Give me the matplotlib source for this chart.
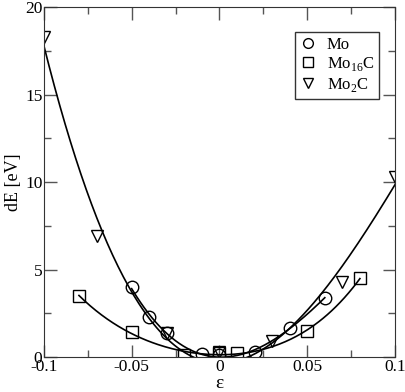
import numpy as np
import matplotlib
matplotlib.use("Agg")
import matplotlib.pyplot as plt
import matplotlib.ticker as ticker

plt.rcParams["font.family"] = ["Liberation Serif", "DejaVu Serif"]
plt.rcParams["mathtext.fontset"] = "custom"
plt.rcParams["mathtext.rm"] = "Liberation Serif"

# ─── data ────────────────────────────────────────────────────────────────
mo_x = [-0.05, -0.04, -0.03, -0.01, 0.0, 0.02, 0.04, 0.06]
mo_y = [4.0, 2.3, 1.35, 0.2, 0.1, 0.3, 1.65, 3.4]

mo16c_x = [-0.08, -0.05, -0.02, 0.0, 0.01, 0.05, 0.08]
mo16c_y = [3.5, 1.45, 0.1, 0.25, 0.25, 1.5, 4.5]

mo2c_x = [-0.1, -0.07, -0.03, 0.0, 0.03, 0.07, 0.1]
mo2c_y = [18.3, 6.9, 1.4, 0.3, 0.9, 4.3, 10.3]

fig = plt.figure(figsize=(4.06, 3.92), dpi=100)
ax = fig.add_axes([0.108, 0.089, 0.865, 0.893])

def fit_line(xs, ys, deg=3):
    p = np.polyfit(xs, ys, deg)
    xx = np.linspace(min(xs), max(xs), 200)
    ax.plot(xx, np.polyval(p, xx), color="black", lw=1.2)

fit_line(mo_x, mo_y)
fit_line(mo16c_x, mo16c_y, deg=4)
fit_line(mo2c_x, mo2c_y)

mk = dict(ls="none", mfc="none", mec="black", mew=1.0, ms=9)
ax.plot(mo_x, mo_y, marker="o", label="Mo", **mk)
ax.plot(mo16c_x, mo16c_y, marker="s", label=r"Mo$_{16}$C", **dict(mk, ms=8))
ax.plot(mo2c_x, mo2c_y, marker="v", label=r"Mo$_2$C", **mk)

ax.set_xlim(-0.1, 0.1)
ax.set_ylim(0, 20)
ax.set_xticks([-0.1, -0.05, 0, 0.05, 0.1])
ax.set_xticklabels(["-0.1", "-0.05", "0", "0.05", "0.1"])
ax.set_yticks([0, 5, 10, 15, 20])
ax.xaxis.set_minor_locator(ticker.MultipleLocator(0.025))
ax.yaxis.set_minor_locator(ticker.MultipleLocator(2.5))
ax.tick_params(axis="both", which="both", direction="in", top=True, right=True,
               labelsize=12.5, color="#555555")
ax.tick_params(which="major", length=9, width=1)
ax.tick_params(which="minor", length=5, width=1)
ax.tick_params(axis="x", pad=1)
ax.tick_params(axis="y", pad=1)
for s in ax.spines.values():
    s.set_color("#333333")

ax.set_xlabel("ε", fontsize=14)
ax.xaxis.set_label_coords(0.5, -0.052)
ax.set_ylabel("dE [eV]", fontsize=13, labelpad=2)

leg = ax.legend(loc="upper right", bbox_to_anchor=(0.955, 0.93), fontsize=12,
                frameon=True, fancybox=False, edgecolor="black",
                handlelength=1.0, handletextpad=0.6, borderpad=0.3,
                labelspacing=0.15, borderaxespad=0)
leg.get_frame().set_linewidth(1.0)
for h in leg.legend_handles:
    h.set_markersize(7)

fig.savefig("out.png", dpi=100)
